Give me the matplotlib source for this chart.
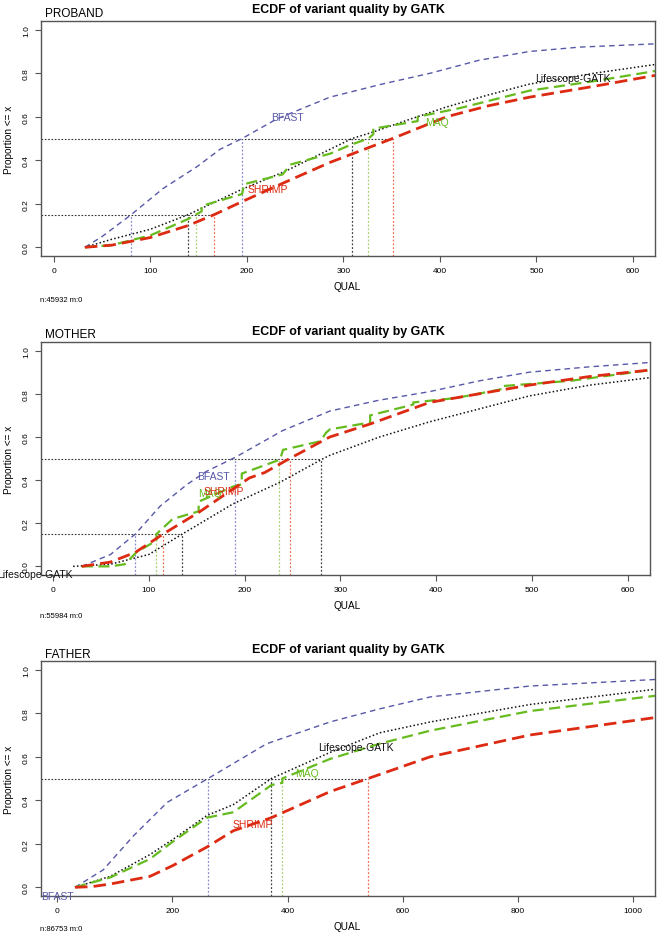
import matplotlib
matplotlib.use('Agg')
from matplotlib import pyplot as plt

plt.rcParams['font.family'] = ['Liberation Sans', 'DejaVu Sans']

# ---------------- PROBAND ----------------
proband_bfast_x = [32, 50, 80, 113, 148, 172, 195, 231, 286, 340, 390, 441, 493, 545, 623]
proband_bfast_y = [0, 0.05, 0.15, 0.27, 0.37, 0.45, 0.50, 0.59, 0.69, 0.75, 0.80, 0.86, 0.90, 0.92, 0.935]
proband_life_x = [32, 60, 100, 139, 195, 240, 286, 309, 331, 370, 407, 450, 493, 560, 623]
proband_life_y = [0, 0.037, 0.083, 0.15, 0.267, 0.35, 0.45, 0.50, 0.53, 0.59, 0.645, 0.70, 0.75, 0.80, 0.84]
proband_maq_x = [32, 60, 100, 139, 147, 153, 153, 195, 197, 237, 245, 286, 307, 326, 331, 331,
                 377, 377, 421, 493, 562, 623]
proband_maq_y = [0, 0.01, 0.055, 0.13, 0.15, 0.165, 0.19, 0.245, 0.29, 0.335, 0.38, 0.43, 0.47, 0.50,
                 0.52, 0.545, 0.58, 0.60, 0.64, 0.72, 0.765, 0.81]
proband_shrimp_x = [32, 60, 100, 139, 166, 195, 240, 286, 351, 407, 450, 493, 560, 623]
proband_shrimp_y = [0, 0.01, 0.045, 0.10, 0.15, 0.21, 0.30, 0.39, 0.50, 0.60, 0.65, 0.69, 0.74, 0.79]
proband_q15 = [80, 139, 147, 166]   # bfast, lifescope, maq, shrimp
proband_q50 = [195, 309, 326, 351]

# ---------------- MOTHER ----------------
mother_bfast_x = [30, 60, 86, 112, 140, 160, 190, 240, 289, 340, 393, 445, 497, 560, 623]
mother_bfast_y = [0, 0.055, 0.15, 0.28, 0.38, 0.44, 0.505, 0.63, 0.72, 0.77, 0.81, 0.86, 0.90, 0.925, 0.945]
mother_life_x = [21, 60, 100, 135, 188, 237, 280, 289, 341, 393, 445, 497, 560, 623]
mother_life_y = [0, 0.01, 0.055, 0.15, 0.29, 0.39, 0.495, 0.515, 0.60, 0.67, 0.73, 0.79, 0.84, 0.875]
mother_maq_x = [30, 60, 75, 87, 108, 108, 125, 152, 152, 188, 197, 197, 237, 240, 279, 285, 289,
                331, 331, 376, 376, 420, 467, 467, 540, 623]
mother_maq_y = [0, 0.0, 0.01, 0.065, 0.12, 0.15, 0.22, 0.255, 0.30, 0.37, 0.38, 0.43, 0.495, 0.54,
                0.58, 0.62, 0.635, 0.667, 0.70, 0.75, 0.76, 0.78, 0.82, 0.835, 0.86, 0.91]
mother_shrimp_x = [30, 60, 86, 115, 152, 190, 205, 221, 247, 289, 331, 393, 445, 497, 560, 623]
mother_shrimp_y = [0, 0.02, 0.065, 0.15, 0.25, 0.365, 0.41, 0.435, 0.50, 0.60, 0.66, 0.76, 0.80, 0.84, 0.88, 0.91]
mother_q15 = [86, 135, 108, 115]
mother_q50 = [190, 280, 236, 247]

# ---------------- FATHER ----------------
father_bfast_x = [31, 80, 132, 191, 262, 364, 474, 560, 648, 821, 1038]
father_bfast_y = [0, 0.08, 0.235, 0.39, 0.50, 0.66, 0.76, 0.82, 0.875, 0.925, 0.955]
father_life_x = [31, 92, 161, 201, 260, 306, 372, 474, 560, 648, 821, 1038]
father_life_y = [0, 0.05, 0.15, 0.22, 0.33, 0.38, 0.50, 0.62, 0.71, 0.76, 0.84, 0.91]
father_maq_x = [31, 92, 161, 201, 260, 306, 372, 391, 391, 474, 560, 648, 821, 1038]
father_maq_y = [0, 0.045, 0.13, 0.21, 0.32, 0.345, 0.47, 0.48, 0.50, 0.59, 0.66, 0.72, 0.81, 0.88]
father_shrimp_x = [31, 60, 92, 161, 201, 260, 306, 372, 474, 540, 648, 821, 1038]
father_shrimp_y = [0, 0.003, 0.015, 0.05, 0.10, 0.185, 0.26, 0.32, 0.44, 0.50, 0.60, 0.70, 0.78]
father_q50 = [262, 372, 391, 540]

tools = ['BFAST', 'Lifescope-GATK', 'MAQ', 'SHRIMP']
colors = ['#5858a8', '#111111', '#66bb1e', '#dd2a12']
vcolors = ['#8a8ad0', '#444444', '#a8d070', '#ee7050']
styles = [(0, (4, 3)), (0, (1, 1.5)), (0, (5, 2.5)), (0, (4.5, 2.2))]
widths = [1.0, 1.1, 1.6, 2.0]

W, H = 659, 945
fig = plt.figure(figsize=(W / 100, H / 100), dpi=100)


def fx(px):
    return px / W


def fy(py):
    return 1 - py / H


panels = [
    dict(name='PROBAND', box=(41, 22, 655, 257), xlim=(-13.5, 623), ticks=range(0, 601, 100),
         curves=[(proband_bfast_x, proband_bfast_y), (proband_life_x, proband_life_y),
                 (proband_maq_x, proband_maq_y), (proband_shrimp_x, proband_shrimp_y)],
         quant=[(0.15, proband_q15), (0.5, proband_q50)],
         labels=[(242, 0.60), (538, 0.78), (397, 0.575), (222, 0.267)],
         head=(17, 13), qual=287, ntxt='n:45932 m:0', ny=300),
    dict(name='MOTHER', box=(41, 343, 650, 576), xlim=(-12.5, 623), ticks=range(0, 601, 100),
         curves=[(mother_bfast_x, mother_bfast_y), (mother_life_x, mother_life_y),
                 (mother_maq_x, mother_maq_y), (mother_shrimp_x, mother_shrimp_y)],
         quant=[(0.15, mother_q15), (0.5, mother_q50)],
         labels=[(167, 0.42), (-19, -0.035), (164, 0.34), (178, 0.35)],
         head=(338, 335), qual=606, ntxt='n:55984 m:0', ny=617),
    dict(name='FATHER', box=(41, 662, 655, 897), xlim=(-28, 1038), ticks=range(0, 1001, 200),
         curves=[(father_bfast_x, father_bfast_y), (father_life_x, father_life_y),
                 (father_maq_x, father_maq_y), (father_shrimp_x, father_shrimp_y)],
         quant=[(0.5, father_q50)],
         labels=[(0, -0.04), (519, 0.645), (434, 0.525), (340, 0.29)],
         head=(658, 653), qual=927, ntxt='n:86753 m:0', ny=930),
]

for p in panels:
    l, t, r, b = p['box']
    ax = fig.add_axes([fx(l), fy(b), fx(r) - fx(l), fy(t) - fy(b)])
    ax.set_xlim(*p['xlim'])
    ax.set_ylim(-0.04, 1.04)

    # quantile guide lines
    for level, qs in p['quant']:
        ax.plot([p['xlim'][0], max(qs)], [level, level], color='#333333', lw=0.8, ls=(0, (1.5, 1.5)))
        for q, c in zip(qs, vcolors):
            ax.plot([q, q], [-0.04, level], color=c, lw=0.9, ls=(0, (1.5, 1.5)))

    for (xs, ys), c, s, w in zip(p['curves'], colors, styles, widths):
        ax.plot(xs, ys, color=c, ls=s, lw=w)

    for (lx, ly), name, c in zip(p['labels'], tools, colors):
        ax.text(lx, ly, name, color=c, fontsize=7.5, ha='center', va='center', clip_on=False)

    ax.set_xticks(list(p['ticks']))
    ax.set_xticklabels([str(v) for v in p['ticks']], fontsize=6)
    ax.set_yticks([0, 0.2, 0.4, 0.6, 0.8, 1.0])
    ax.set_yticklabels(['0.0', '0.2', '0.4', '0.6', '0.8', '1.0'], fontsize=6, rotation=90, va='center')
    ax.tick_params(length=4, width=0.8, color='#555555', pad=4)
    for sp in ax.spines.values():
        sp.set_color('#555555')
        sp.set_linewidth(1.0)

    fig.text(fx(45), fy(p['head'][0]), p['name'], fontsize=8.5, va='baseline')
    fig.text(fx(348), fy(p['head'][1]), 'ECDF of variant quality by GATK', fontsize=8.9,
             fontweight='bold', ha='center', va='baseline')
    fig.text(fx(347), fy(p['qual']), 'QUAL', fontsize=7.2, ha='center', va='center')
    fig.text(fx(40), fy(p['ny']), p['ntxt'], fontsize=5.5, va='center')
    fig.text(fx(9), fy((t + b) / 2), 'Proportion <= x', fontsize=7.2, rotation=90,
             ha='center', va='center')

fig.savefig('out.png', dpi=100)
